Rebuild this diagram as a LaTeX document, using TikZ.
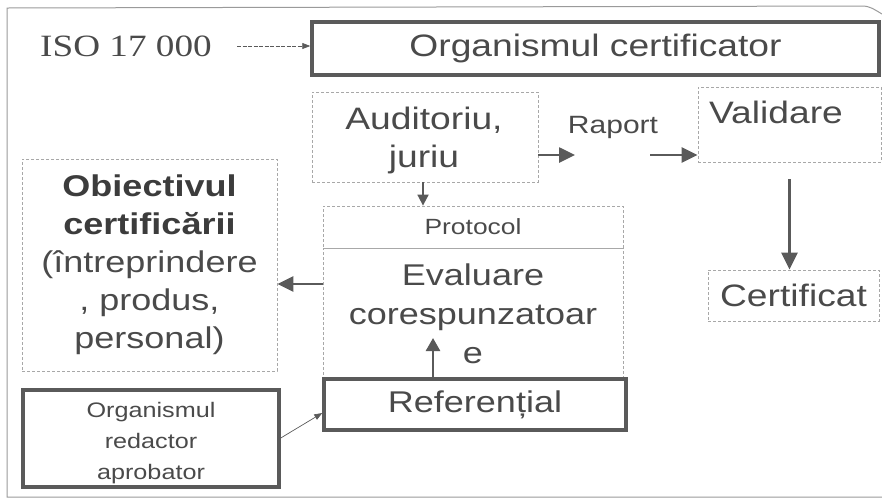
\documentclass[tikz,border=0pt]{standalone}
\usepackage{fontspec}
\setmainfont{Liberation Sans}[FakeStretch=1.2]
\newfontfamily\isofont{Liberation Serif}[FakeStretch=1.2]
\usetikzlibrary{arrows.meta}
\definecolor{txt}{HTML}{4A4A4A}
\definecolor{txtb}{HTML}{3C3C3C}
\definecolor{thick}{HTML}{5A5A5A}
\definecolor{dash}{HTML}{A8A8A8}
\definecolor{frame}{HTML}{9A9A9A}
\tikzset{
  thickbox/.style={draw=thick, line width=3.5pt, rectangle, inner sep=0pt, text=txt, align=center},
  dashbox/.style={draw=dash, line width=0.8pt, dash pattern=on 3pt off 2pt, rectangle, inner sep=0pt, text=txt, align=center},
  plain/.style={inner sep=0pt, text=txt, align=center},
  bigarrow/.style={draw=thick, line width=2.6pt, -{Triangle[length=16pt,width=15pt]}},
  smallarrow/.style={draw=thick, line width=1.8pt, -{Triangle[length=11pt,width=11pt]}},
  thinarrow/.style={draw=thick, line width=0.7pt, -{Triangle[length=8pt,width=6pt]}},
}
\newcommand{\fs}[2]{\fontsize{#1}{#2}\selectfont}
\newcommand{\bt}[1]{\textcolor{txtb}{\bfseries #1}}
\begin{document}
\begin{tikzpicture}[x=1pt,y=-1pt]
\useasboundingbox (0,0) rectangle (882,499);
% outer frame
\draw[frame, line width=1pt] (882,497) -- (7,497) -- (7,8) -- (862,6) to[out=0,in=150] (882,14);
% boxes
\node[thickbox, minimum width=567pt, minimum height=53pt, font=\fs{31}{38}] (org) at (595.5,48.5) {Organismul certificator};
\node[plain, font=\isofont\fs{31}{38}] (iso) at (126,46) {ISO 17 000};
\node[dashbox, minimum width=226pt, minimum height=90pt, font=\fs{31}{38}] (aud) at (425,137) {};
\node[plain, font=\fs{31}{38}] (audtxt) at (424,140) {Auditoriu,\\ juriu};
\node[dashbox, minimum width=183pt, minimum height=75pt] (val) at (789.5,124.5) {};
\node[plain, font=\fs{31}{38}] (valtxt) at (776,112) {Validare};
\node[plain, font=\fs{25}{30}] (rap) at (613,127) {Raport};
\node[dashbox, minimum width=171pt, minimum height=51pt, font=\fs{31}{38}] (certif) at (793.5,295.5) {Certificat};
\node[dashbox, minimum width=300pt, minimum height=42pt, font=\fs{22}{26}] (prot) at (473,227) {Protocol};
\node[dashbox, minimum width=300pt, minimum height=131pt, font=\fs{30}{39}] (eval) at (473,313.5) {Evaluare\\ corespunzatoar\\ e};
\node[thickbox, minimum width=302pt, minimum height=51pt, font=\fs{30}{38}] (ref) at (475,404.5) {Referențial};
\node[dashbox, minimum width=255pt, minimum height=212pt, font=\fs{30}{38}] (obj) at (149.5,265) {\bt{Obiectivul}\\ \bt{certificării}\\ (întreprindere\\ , produs,\\ personal)};
\node[thickbox, minimum width=256pt, minimum height=97pt] (red) at (151,438.5) {};
\node[plain, font=\fs{21}{31}] (redtxt) at (151,443) {Organismul\\ redactor\\ aprobator};
% coordinates for free ends
\coordinate (r1) at (575,155);
\coordinate (r2) at (650,155);
\coordinate (e1) at (433,338);
\coordinate (isoA) at (237,46);
\coordinate (a1) at (423,150);
% connectors
\draw[thinarrow, dash pattern=on 4pt off 1.5pt] (isoA) -- (org.west |- iso.east);
\draw[bigarrow] (aud.east |- r1) -- (r1);
\draw[bigarrow] (r2) -- (val.west |- r2);
\draw[draw=thick, line width=2.8pt, -{Triangle[length=17pt,width=16pt]}] ([yshift=-17pt]val.south) -- (val.south |- certif.north);
\draw[smallarrow] (aud.south -| a1) -- (prot.north -| a1);
\draw[bigarrow] (eval.west |- 0,284) -- (obj.east |- 0,284);
\draw[draw=thick, line width=2.6pt, -{Triangle[length=13pt,width=14pt]}] (ref.north -| e1) -- (e1);
\draw[thinarrow] (red.east |- 0,438) -- (ref.west |- 0,413);
\end{tikzpicture}
\end{document}
